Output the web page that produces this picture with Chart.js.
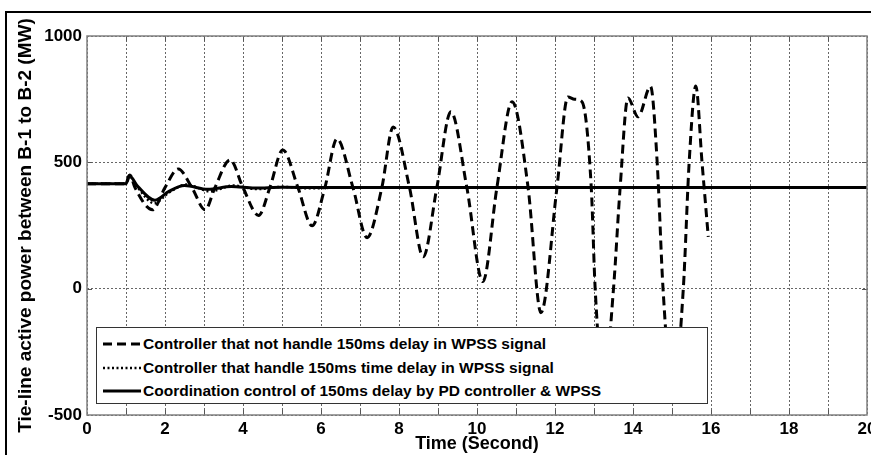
<!DOCTYPE html>
<html>
<head>
<meta charset="utf-8">
<script src="https://cdn.jsdelivr.net/npm/chart.js@4"></script>
<style>
  html, body { margin: 0; padding: 0; background: #fff; }
  #wrap { position: relative; width: 871px; height: 455px; overflow: hidden; }
  #frame { position: absolute; left: 5px; top: 11px; width: 880px; height: 460px;
           border-left: 2px solid #000; border-top: 2px solid #000; }
  #c { position: absolute; left: 0; top: 0; }
  #legend { position: absolute; left: 96px; top: 327px; width: 612px; height: 77px;
            box-sizing: border-box; border: 1px solid #333; background: #fff;
            font: bold 15.5px "Liberation Sans", Arial, sans-serif; color: #000; }
  .row { position: absolute; left: 0; height: 20px; line-height: 20px; white-space: nowrap; }
  .row svg { position: absolute; left: 5px; top: 5px; }
  .row span { position: absolute; left: 46px; top: 0; }
</style>
</head>
<body>
<div id="wrap">
  <div id="frame"></div>
  <canvas id="c" width="871" height="455"></canvas>
  <div id="legend"></div>
</div>
<script>
/* ================= DADOS ================= */
const seriesNames = [
  'Controller that not handle 150ms delay in WPSS signal',
  'Controller that handle 150ms time delay in WPSS signal',
  'Coordination control of 150ms delay by PD controller & WPSS'
];

// sem tratamento do atraso (tracejada)
const tDash = [0, 1.0, 1.1, 1.23, 1.68, 2.0, 2.34, 2.69, 3.03, 3.28, 3.67, 4.0, 4.4, 4.69, 5.02, 5.41,
  5.77, 6.1, 6.41, 6.82, 7.18, 7.56, 7.85, 8.27, 8.62, 8.97, 9.33, 9.74, 10.15, 10.51, 10.9, 11.31,
  11.64, 12.05, 12.33, 12.5, 12.69, 12.93, 13.03, 13.25, 13.5, 13.67, 13.87, 14.13, 14.45, 14.62,
  14.77, 15.02, 15.29, 15.44, 15.61, 15.77, 15.93];
const pDash = [415, 415, 450, 400, 312, 400, 474, 400, 312, 400, 510, 400, 290, 400, 549, 400,
  249, 400, 593, 400, 202, 400, 640, 400, 126, 400, 700, 400, 28, 400, 740, 400,
  -95, 400, 759, 750, 740, 400, 0, -380, 0, 400, 755, 680, 800, 500,
  0, -420, 0, 500, 802, 500, 205];

// com tratamento do atraso (pontilhada)
const tDot = [0, 1.0, 1.08, 1.3, 1.72, 2.1, 2.55, 3.15, 3.75, 4.35, 5.0, 5.7, 6.5, 20];
const pDot = [415, 415, 445, 400, 338, 380, 412, 385, 408, 394, 403, 397, 400, 400];

// coordenação PD + WPSS (contínua)
const tSolid = [0, 1.0, 1.08, 1.3, 1.74, 2.1, 2.5, 3.1, 3.7, 4.3, 5.0, 6.0, 20];
const pSolid = [415, 415, 448, 405, 350, 385, 408, 393, 404, 398, 401, 400, 400];

const xTicks = [0, 2, 4, 6, 8, 10, 12, 14, 16, 18, 20];
const yTicks = [-500, 0, 500, 1000];

function pares(ts, ps) {
  return ts.map((t, i) => ({ x: t, y: ps[i] }));
}

/* ================= LEGENDA ================= */
const estilos = [
  { dash: '9,5', w: 3 },
  { dash: '2,2.5', w: 2.5 },
  { dash: '', w: 3 }
];
const leg = document.getElementById('legend');
const rowsTop = [6, 30, 53];
seriesNames.forEach((nome, i) => {
  const row = document.createElement('div');
  row.className = 'row';
  row.style.top = rowsTop[i] + 'px';
  row.innerHTML = `
    <svg width="40" height="10"><line x1="1" y1="5" x2="39" y2="5" stroke="#000"
      stroke-width="${estilos[i].w}" ${estilos[i].dash ? `stroke-dasharray="${estilos[i].dash}"` : ''}/></svg>
    <span>${nome}</span>`;
  leg.appendChild(row);
});

/* ================= MOLDURA / MARCAS ================= */
const moldura = {
  id: 'moldura',
  afterDatasetsDraw(chart) {
    const { ctx, chartArea: a, scales } = chart;
    ctx.save();
    ctx.strokeStyle = '#555';
    ctx.lineWidth = 1;
    ctx.beginPath();
    for (let s = 1; s < 20; s++) {
      const x = Math.round(scales.x.getPixelForValue(s)) + 0.5;
      ctx.moveTo(x, a.bottom); ctx.lineTo(x, a.bottom - 5);
      ctx.moveTo(x, a.top); ctx.lineTo(x, a.top + 5);
    }
    [0, 500].forEach(v => {
      const y = Math.round(scales.y.getPixelForValue(v)) + 0.5;
      ctx.moveTo(a.left, y); ctx.lineTo(a.left + 5, y);
      ctx.moveTo(a.right, y); ctx.lineTo(a.right - 5, y);
    });
    ctx.stroke();
    ctx.strokeStyle = '#808080';
    ctx.lineWidth = 1.5;
    ctx.strokeRect(a.left, a.top, a.right - a.left, a.bottom - a.top);
    ctx.restore();
  }
};

const fonteEixo = { family: '"Liberation Sans", Arial, sans-serif', size: 17, weight: 'bold' };

new Chart(document.getElementById('c'), {
  type: 'line',
  data: {
    datasets: [
      { label: seriesNames[0], data: pares(tDash, pDash), borderColor: '#000', borderWidth: 3,
        borderDash: [9, 5], order: 3 },
      { label: seriesNames[1], data: pares(tDot, pDot), borderColor: '#000', borderWidth: 2.5,
        borderDash: [2, 2.5], order: 2 },
      { label: seriesNames[2], data: pares(tSolid, pSolid), borderColor: '#000', borderWidth: 3,
        order: 1 }
    ]
  },
  options: {
    responsive: false,
    animation: false,
    elements: {
      point: { radius: 0 },
      line: { cubicInterpolationMode: 'monotone', fill: false }
    },
    layout: { padding: { left: 14, top: 36, right: 4, bottom: 0 } },
    plugins: { legend: { display: false }, tooltip: { enabled: false } },
    scales: {
      x: {
        type: 'linear', min: 0, max: 20,
        afterBuildTicks: s => { s.ticks = Array.from({ length: 21 }, (_, i) => ({ value: i })); },
        afterFit: s => { s.height = 40; s.paddingLeft = 0; s.paddingRight = 0; },
        ticks: {
          color: '#000', font: fonteEixo, padding: 4, maxRotation: 0, autoSkip: false,
          callback: v => xTicks.includes(v) ? String(v) : ''
        },
        grid: { color: '#666', lineWidth: 1, drawTicks: false },
        border: { display: false, dash: [2, 2] },
        title: { display: true, text: 'Time (Second)', color: '#000',
                 font: { family: '"Liberation Sans", Arial, sans-serif', size: 18, weight: 'bold' },
                 padding: { top: 0, bottom: 0 } }
      },
      y: {
        min: -500, max: 1000,
        afterBuildTicks: s => { s.ticks = yTicks.map(v => ({ value: v })); },
        afterFit: s => { s.width = 73; },
        ticks: { color: '#000', font: fonteEixo, padding: 5, callback: v => String(v) },
        grid: { color: '#666', lineWidth: 1, drawTicks: false },
        border: { display: false, dash: [2, 2] },
        title: { display: true, text: 'Tie-line active power between B-1 to B-2 (MW)', color: '#000',
                 font: { family: '"Liberation Sans", Arial, sans-serif', size: 19, weight: 'bold' },
                 padding: { top: 0, bottom: 0 } }
      }
    }
  },
  plugins: [moldura]
});
</script>
</body>
</html>
